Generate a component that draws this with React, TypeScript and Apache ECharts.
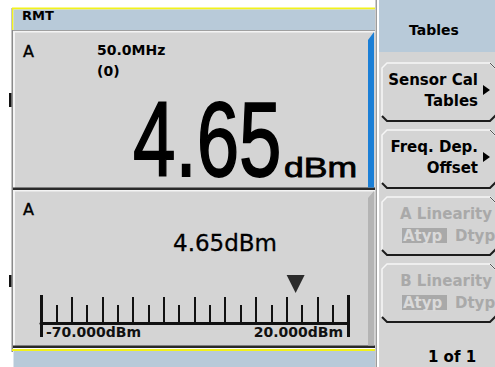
import React, { useEffect, useRef } from "react";
import * as echarts from "echarts";

// ---- data ----
const SCALE_MIN = -70; // dBm, left end of bar scale
const SCALE_MAX = 20; // dBm, right end of bar scale
const MAJOR_STEP = 9; // dB between tall ticks
const MINOR_SPLIT = 2; // short tick halfway
const READING_DBM = 4.65;
const UNIT = "dBm";
const CHANNEL = "A";
const FREQUENCY = "50.0MHz";
const OFFSET_TEXT = "(0)";
const HEADER = "RMT";
const MENU_TITLE = "Tables";
const KEY_LINE1 = ["Sensor Cal", "Freq. Dep.", "A Linearity", "B Linearity"];
const KEY_LINE2 = ["Tables", "Offset", "", ""];
const KEY_TOGGLE = [null, null, ["Atyp", "Dtyp"], ["Atyp", "Dtyp"]];
const KEY_ENABLED = [true, true, false, false];
const PAGE_TEXT = "1 of 1";

const GRAY = "#d4d4d4";
const BLUE_BAND = "#b8cad9";
const YELLOW = "#f2f21c";
const DIS = "#a9a9a9";
const DJ = "DejaVu Sans";

function buildGraphic() {
  const g: any[] = [];
  const rect = (x: number, y: number, w: number, h: number, fill: string, z = -10) =>
    g.push({ type: "rect", shape: { x, y, width: w, height: h }, style: { fill }, z, silent: true });
  const poly = (pts: number[][], fill: string, stroke?: string, lw = 1, z = -9) =>
    g.push({ type: "polygon", shape: { points: pts }, style: { fill, stroke: stroke || "none", lineWidth: lw }, z, silent: true });
  const pline = (pts: number[][], stroke: string, lw: number, z = -8) =>
    g.push({ type: "polyline", shape: { points: pts }, style: { fill: "none", stroke, lineWidth: lw }, z, silent: true });
  const text = (x: number, y: number, t: string, size: number, opts: any = {}) =>
    g.push({
      type: "text",
      x,
      y,
      scaleX: opts.scaleX || 1,
      originX: 0,
      originY: 0,
      z: 10,
      silent: true,
      style: {
        text: t,
        fontSize: size,
        fontFamily: opts.family || DJ,
        fontWeight: opts.bold ? "bold" : "normal",
        fill: opts.color || "#000",
        stroke: opts.stroke ? opts.color || "#000" : "none",
        lineWidth: opts.stroke || 0,
        align: opts.align || "left",
        textAlign: opts.align || "left",
        verticalAlign: "middle",
        textVerticalAlign: "middle",
      },
    });

  // left instrument area
  rect(11.5, 8, 1.5, 344, "#8a8a8a");
  rect(12, 7.5, 363, 2, YELLOW);
  rect(12, 8, 1.5, 22, YELLOW);
  rect(13.5, 9.5, 361.5, 20.5, BLUE_BAND);
  rect(13, 30, 362, 1.2, "#a0a0a0");
  // upper window
  rect(13, 31, 362, 158, GRAY);
  rect(13, 31, 362, 1.5, "#f4f4f4", -9);
  rect(13, 31, 2, 158, "#f4f4f4", -9);
  rect(13, 187.5, 362, 2.5, "#2a2a2a", -9);
  poly([[368, 40], [374, 32], [374, 187.5], [368, 187.5]], "#1b7fd6");
  // lower window
  rect(13, 190, 362, 157, GRAY);
  rect(13, 190, 362, 1.5, "#f4f4f4", -9);
  rect(13, 190, 2, 157, "#f4f4f4", -9);
  rect(13, 345.5, 362, 2.5, "#2a2a2a", -9);
  poly([[368, 198], [374, 191], [374, 345.5], [368, 345.5]], "#b4b4b4");
  // bottom band
  rect(12, 349, 363, 2, YELLOW);
  rect(13.5, 351, 361.5, 16, BLUE_BAND);
  // little side marks
  rect(9, 93, 2.5, 14, "#111");
  rect(9, 275, 2.5, 12, "#111");
  // separator
  rect(375.5, 0, 1.5, 367, "#9c9c9c");
  // right menu panel
  rect(379, 0, 116, 367, GRAY);
  rect(379, 0, 116, 52, BLUE_BAND, -9);

  // header texts
  text(22, 15, HEADER, 13, { bold: true });
  text(23, 51, CHANNEL, 16, { stroke: 0.4 });
  text(97, 50, FREQUENCY, 14, { bold: true });
  text(97, 71, OFFSET_TEXT, 14, { bold: true });
  text(133, 139, READING_DBM.toFixed(2), 106, { family: "Liberation Sans", scaleX: 0.72, stroke: 1.8 });
  text(284, 167, UNIT, 28, { family: "Liberation Sans", scaleX: 1.27, stroke: 0.8 });
  text(23, 209, CHANNEL, 16, { stroke: 0.4 });
  text(173, 243, READING_DBM.toFixed(2) + UNIT, 23, { stroke: 0.3 });

  // menu
  text(434, 30, MENU_TITLE, 14, { bold: true, align: "center" });
  for (let i = 0; i < KEY_LINE1.length; i++) {
    const t = 63 + i * 67;
    const b = t + 58;
    poly(
      [[387, t], [490, t], [496, t + 6], [496, b - 6], [490, b], [387, b], [382, b - 5], [382, t + 5]],
      GRAY,
      "#f6f6f6",
      1.5,
      -8
    );
    pline([[490, t], [496, t + 6]], "#555", 1, -7);
    pline([[382, b - 5], [387, b], [490, b], [496, b - 6]], "#1c1c1c", 2, -7);
    const en = KEY_ENABLED[i];
    const col = en ? "#000" : DIS;
    const tog = KEY_TOGGLE[i];
    if (!tog) {
      text(478, t + 17, KEY_LINE1[i], 15, { bold: true, align: "right", color: col });
      text(478, t + 38, KEY_LINE2[i], 15, { bold: true, align: "right", color: col });
      poly([[483, t + 22], [490, t + 27], [483, t + 32]], col, undefined, 1, 9);
    } else {
      text(492, t + 17, KEY_LINE1[i], 15, { bold: true, align: "right", color: col });
      rect(402, t + 31, 45, 15, DIS, -6);
      text(403, t + 38.5, tog[0], 15, { bold: true, color: "#dadada" });
      text(455, t + 38.5, tog[1], 15, { bold: true, color: col });
    }
  }
  text(452, 357, PAGE_TEXT, 15, { bold: true, align: "center" });
  return g;
}

export default function App() {
  const ref = useRef<HTMLDivElement>(null);
  useEffect(() => {
    if (!ref.current) return;
    const chart = echarts.init(ref.current, null, { renderer: "svg" });
    const span = SCALE_MAX - SCALE_MIN;
    const fmt = (v: number) => `${(SCALE_MIN + v).toFixed(3)}${UNIT}`;
    chart.setOption({
      animation: false,
      backgroundColor: "#ffffff",
      grid: { left: 41, right: 147, top: 245, bottom: 44, containLabel: false, outerBoundsMode: "none" },
      xAxis: [
        {
          type: "value",
          min: 0,
          max: span,
          interval: MAJOR_STEP,
          position: "bottom",
          axisLine: { show: true, lineStyle: { color: "#111", width: 3 } },
          axisTick: { show: true, inside: true, length: 26, lineStyle: { color: "#111", width: 2 } },
          minorTick: { show: true, splitNumber: MINOR_SPLIT, length: 18, lineStyle: { color: "#111", width: 2 } },
          axisLabel: { show: false },
          splitLine: { show: false },
          minorSplitLine: { show: false },
        },
        {
          type: "value",
          min: 0,
          max: span,
          interval: span,
          position: "bottom",
          axisLine: { show: false },
          axisTick: { show: true, inside: false, length: 14, lineStyle: { color: "#111", width: 3 } },
          axisLabel: {
            show: true,
            formatter: fmt,
            margin: 2,
            padding: [0, 5, 0, 5],
            fontFamily: DJ,
            fontWeight: "bold",
            fontSize: 14,
            color: "#111",
            alignMinLabel: "left",
            alignMaxLabel: "right",
          },
          splitLine: { show: false },
        },
        {
          type: "value",
          min: 0,
          max: span,
          interval: span,
          position: "bottom",
          axisLine: { show: false },
          axisTick: { show: true, inside: true, length: 28, lineStyle: { color: "#111", width: 3 } },
          axisLabel: { show: false },
          splitLine: { show: false },
        },
      ],
      yAxis: { type: "value", min: 0, max: 1, show: false },
      series: [
        {
          type: "scatter",
          xAxisIndex: 0,
          data: [[READING_DBM - SCALE_MIN, 0.5]],
          symbol: "triangle",
          symbolRotate: 180,
          symbolSize: [18, 18],
          itemStyle: { color: "#000" },
          silent: true,
          z: 5,
        },
      ],
      graphic: buildGraphic(),
    });
    return () => chart.dispose();
  }, []);
  return <div ref={ref} style={{ position: "fixed", left: 0, top: 0, width: 495, height: 367 }} />;
}
